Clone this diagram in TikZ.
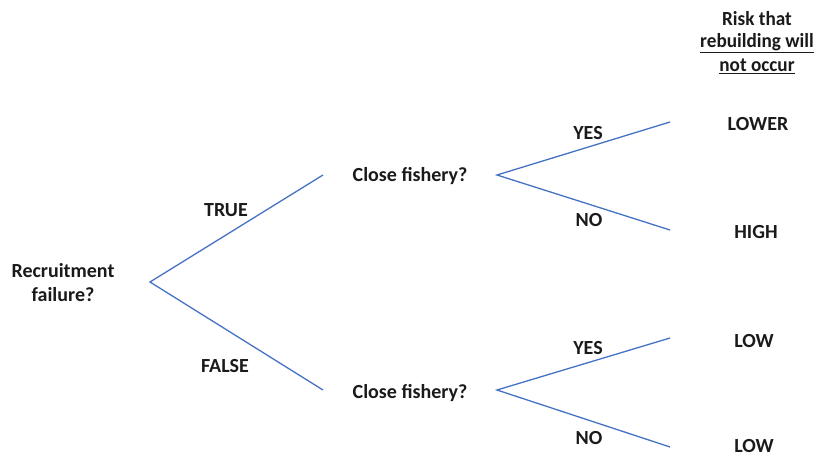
\documentclass[tikz,border=0pt]{standalone}
\usepackage{fontspec}
\setmainfont{Carlito}
\definecolor{branch}{RGB}{68,114,196}
\definecolor{ink}{RGB}{26,26,26}
\tikzset{
  lbl/.style={font=\fontsize{20}{24}\selectfont\bfseries, text=ink, inner sep=0pt, align=center},
  br/.style={draw=branch, line width=1.3pt},
}
\newcommand{\narrowtext}[1]{\scalebox{0.96}[1]{#1}}
\begin{document}
\begin{tikzpicture}[x=1pt,y=-1pt]
\useasboundingbox (0,0) rectangle (820,457);
% branch points
\coordinate (r) at (150,282);
\coordinate (u0) at (323,175);
\coordinate (l0) at (323,390);
\coordinate (u1) at (497,175);
\coordinate (l1) at (497,390);
\coordinate (uy) at (670,122);
\coordinate (un) at (670,230);
\coordinate (ly) at (670,338);
\coordinate (ln) at (670,447);
\draw[br] (u0) -- (r) -- (l0);
\draw[br] (uy) -- (u1) -- (un);
\draw[br] (ly) -- (l1) -- (ln);
% labels
\node[lbl] (root) at (63,283) {Recruitment\\failure?};
\node[lbl] (t) at (226,210) {TRUE};
\node[lbl] (f) at (225,366) {FALSE};
\node[lbl] (cu) at (410,176) {Close fishery?};
\node[lbl] (cl) at (410,393) {Close fishery?};
\node[lbl] (yu) at (588,133) {YES};
\node[lbl] (nu) at (589,220) {NO};
\node[lbl] (yl) at (588,348) {YES};
\node[lbl] (nl) at (589,438) {NO};
\node[lbl] (r1) at (758,124) {LOWER};
\node[lbl] (r2) at (756,232) {HIGH};
\node[lbl] (r3) at (754,341) {LOW};
\node[lbl] (r4) at (754,446) {LOW};
\node[lbl] (h1) at (757,19) {\narrowtext{Risk that}};
\node[lbl] (h2) at (757,43) {\narrowtext{\underline{rebuilding will}}};
\node[lbl] (h3) at (757,66) {\narrowtext{\underline{not occur}}};
\end{tikzpicture}
\end{document}
